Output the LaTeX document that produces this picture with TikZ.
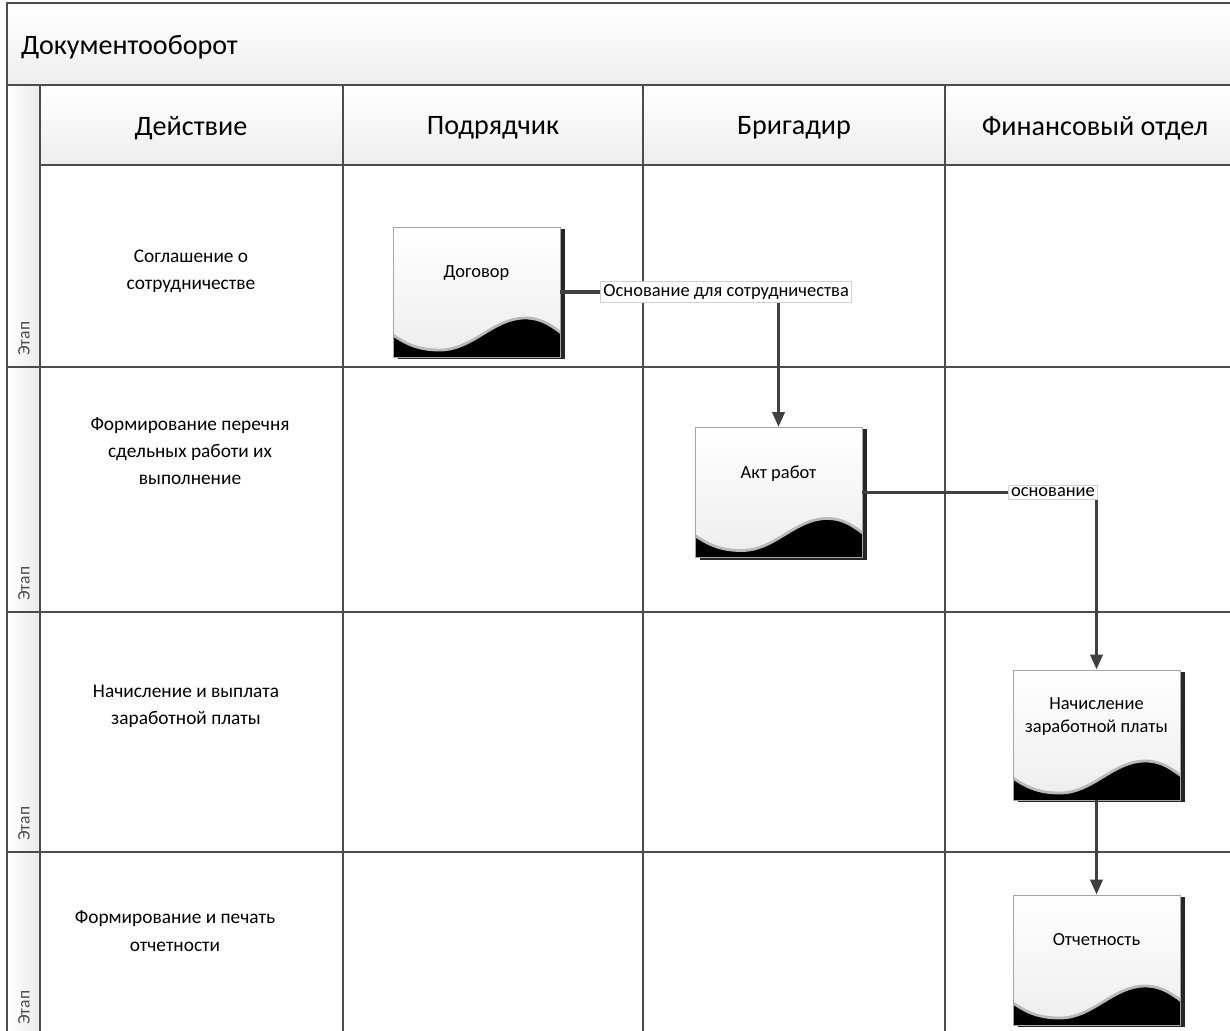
\documentclass[tikz,border=0pt]{standalone}
\usepackage{fontspec}
\setmainfont{Carlito}
\usetikzlibrary{arrows.meta,shadows,positioning}

\begin{document}
\begin{tikzpicture}[
	font=\fontsize{10.5}{13}\selectfont
	]
\tikzset{
	grid/.style = { draw=gray!60!black, line width=1pt },
	band/.style = { grid, top color=white, bottom color=gray!14 },
	strip/.style = { grid, left color=white, right color=gray!16 },
	header/.style = { font=\fontsize{16}{19}\selectfont },
	lane/.style = { text=black!70, font=\fontsize{10}{12}\selectfont, rotate=90, anchor=west },
	action/.style = { align=center, font=\fontsize{11}{15.5}\selectfont },
	docbox/.style = { rectangle, draw=gray!70, top color=white, bottom color=gray!14, minimum width=3.34cm, minimum height=2.6cm, align=center, inner sep=2pt,
		drop shadow={shadow xshift=0.09cm, shadow yshift=-0.04cm, fill=black!85, opacity=1},
		execute at end node={\rule[-0.8cm]{0pt}{0.8cm}},
		path picture={
			\fill[black, draw=gray!55, line width=1.6pt] ([xshift=-0.1cm,yshift=0.46cm]path picture bounding box.south west) -- ++(0.1,-0.02)
				.. controls +(0.35,-0.24) and +(-0.34,0) .. ++(0.94,-0.30)
				.. controls +(0.66,0) and +(-0.64,0) .. ++(1.70,0.64)
				.. controls +(0.36,0) and +(-0.25,0.18) .. ++(0.81,-0.36)
				-- ++(0,-0.7) -- ++(-3.7,0) -- cycle;
		} },
	flowlabel/.style = { draw=gray!35, line width=0.5pt, fill=white, inner sep=1.5pt, font=\fontsize{10.5}{12}\selectfont },
	arrow/.style = { line width=2pt, draw=black!75, -{Triangle[length=0.3cm,width=0.24cm]} }
}
	\useasboundingbox (0,0) rectangle (24.6,-20.62);
	\clip (0,0) rectangle (24.6,-20.62);

	% lanes
	\path[band] (0.14,-0.06) rectangle (25,-1.7);
	\path[band] (0.8,-1.7) rectangle (25,-3.3);
	\path[strip] (0.14,-1.7) rectangle (0.8,-21);
	\foreach \x in {6.86,12.86,18.9}
		\draw[grid] (\x,-1.7) -- (\x,-21);
	\foreach \y in {-7.34,-12.24,-17.04}
		\draw[grid] (0.14,\y) -- (25,\y);
	\foreach \y [count=\i] in {-7.34,-12.24,-17.04,-20.72}
		\node[lane] (stage\i) at (0.48,\y+0.1) {Этап};

	% headers
	\node (title) [header, anchor=west] at (0.3,-0.94) {Документооборот};
	\node (hAction) [header] at (3.82,-2.56) {Действие};
	\node (hContractor) [header] at (9.86,-2.56) {Подрядчик};
	\node (hForeman) [header] at (15.88,-2.56) {Бригадир};
	\node (hFinance) [header] at (21.9,-2.56) {Финансовый отдел};

	% actions
	\node (agreement) [action] at (3.82,-5.42) {Соглашение о\\сотрудничестве};
	\node (worklist) [action] at (3.8,-9.02) {Формирование перечня\\сдельных работи их\\выполнение};
	\node (payroll) [action] at (3.72,-14.12) {Начисление и выплата\\заработной платы};
	\node (reporting) [action] at (3.5,-18.62) {Формирование и печать\\отчетности};

	% documents
	\node (contract) [docbox] at (9.53,-5.84) {Договор};
	\node (workAct) [docbox] at (15.57,-9.85) {Акт работ};
	\node (salary) [docbox] at (21.93,-14.7) {Начисление\\заработной платы};
	\node (report) [docbox] at (21.93,-19.2) {Отчетность};

	% paths
	\draw [arrow] (contract.east) -| node[flowlabel, pos=0.38] (basisCoop) {Основание для сотрудничества} (workAct.north);
	\draw [arrow] (workAct.east) -| node[flowlabel, pos=0.407] (basisPay) {основание} (salary.north);
	\draw [arrow] (salary.south) -- (report.north);
\end{tikzpicture}
\end{document}
